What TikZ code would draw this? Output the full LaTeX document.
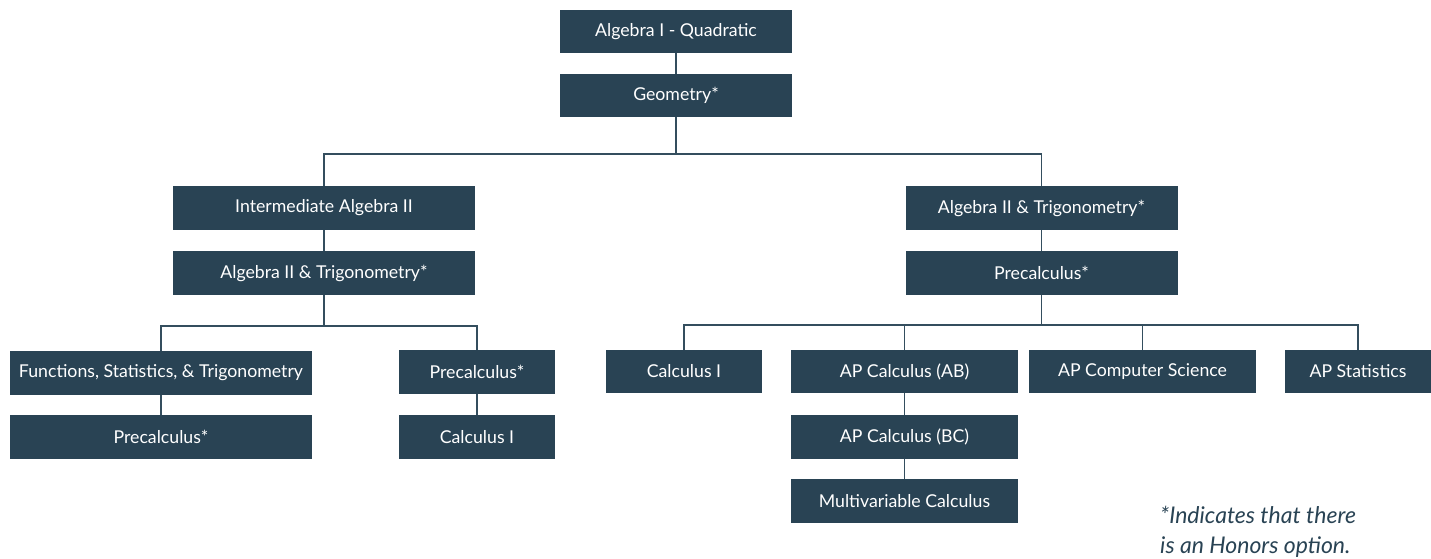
\documentclass[tikz,border=0pt]{standalone}
\usepackage{fontspec}
\setmainfont{Lato}
\definecolor{boxc}{RGB}{41,67,84}
\definecolor{linec}{RGB}{52,78,94}
\begin{document}
\begin{tikzpicture}[x=1pt,y=-1pt,
  course/.style={fill=boxc,draw=none,text=white,inner sep=0pt,
    minimum height=44pt,font=\fontsize{17.7}{20}\selectfont},
  conn/.style={draw=linec,line width=1.4pt}]
\useasboundingbox[fill=white] (0,0) rectangle (1431,558);
% nodes
\node[course,minimum width=232pt,minimum height=43pt] (alg1) at (676,31.5) {Algebra I - Quadratic};
\node[course,minimum width=232pt,minimum height=43pt] (geom) at (676,95.5) {Geometry*};
\node[course,minimum width=302pt] (intalg) at (324,208) {Intermediate Algebra II};
\node[course,minimum width=302pt] (alg2L) at (324,273) {Algebra II \& Trigonometry*};
\node[course,minimum width=302pt] (func) at (161,373) {Functions, Statistics, \& Trigonometry};
\node[course,minimum width=302pt] (precL) at (161,437) {Precalculus*};
\node[course,minimum width=156pt] (precM) at (477,372) {Precalculus*};
\node[course,minimum width=156pt] (calcM) at (477,437) {Calculus I};
\node[course,minimum width=272pt] (alg2R) at (1041.5,208) {Algebra II \& Trigonometry*};
\node[course,minimum width=272pt] (precR) at (1041.5,273) {Precalculus*};
\node[course,minimum width=156pt,minimum height=43pt] (calcR) at (684,371.5) {Calculus I};
\node[course,minimum width=227pt,minimum height=43pt] (apab) at (904.5,371.5) {AP Calculus (AB)};
\node[course,minimum width=227pt,minimum height=43pt] (apcs) at (1142.5,371.5) {AP Computer Science};
\node[course,minimum width=146pt,minimum height=43pt] (apstat) at (1358,371.5) {AP Statistics};
\node[course,minimum width=227pt] (apbc) at (904.5,437) {AP Calculus (BC)};
\node[course,minimum width=227pt] (multi) at (904.5,501) {Multivariable Calculus};
\node[anchor=north west,align=left,inner sep=0pt,text=boxc,
  font=\fontsize{23}{30}\selectfont\itshape] (note) at (1160,506)
  {*Indicates that there\\is an Honors option.};
% connectors
\draw[conn] (alg1.south) -- (geom.north);
\draw[conn] (geom.south) -- ++(0,37) coordinate (busA);
\draw[conn] (intalg.north) -- ++(0,-32) -| (alg2R.north);
\draw[conn] (intalg.south) -- (alg2L.north);
\draw[conn] (alg2L.south) -- ++(0,31);
\draw[conn] (func.north) -- ++(0,-25) -| (precM.north);
\draw[conn] (func.south) -- (precL.north);
\draw[conn] (precM.south) -- (calcM.north);
\draw[conn] (alg2R.south) -- (precR.north);
\draw[conn] (precR.south) -- ++(0,31);
\draw[conn] (calcR.north) -- ++(0,-25) -| (apstat.north);
\draw[conn] (apab.north) -- ++(0,-25);
\draw[conn] (apcs.north) -- ++(0,-25);
\draw[conn] (apab.south) -- (apbc.north);
\draw[conn] (apbc.south) -- (multi.north);
\end{tikzpicture}
\end{document}
